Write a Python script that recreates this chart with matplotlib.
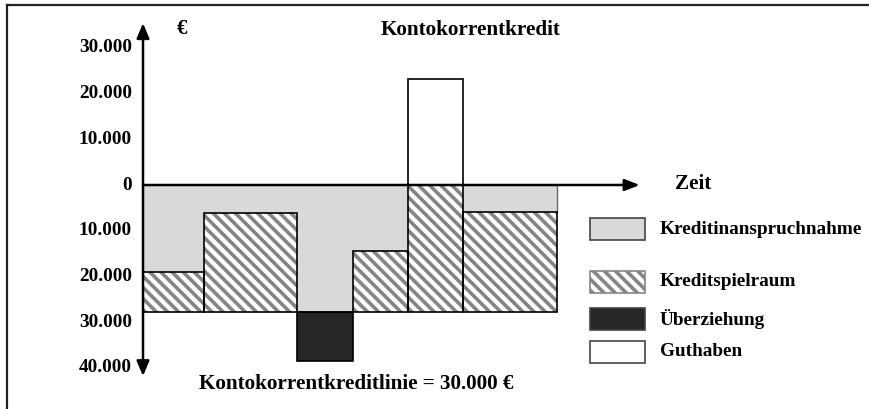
import matplotlib
matplotlib.use("Agg")
import matplotlib.pyplot as plt
from matplotlib.patches import Rectangle

plt.rcParams['font.family'] = ['Liberation Serif', 'DejaVu Serif']
plt.rcParams['font.weight'] = 'bold'
plt.rcParams['hatch.linewidth'] = 2.6

# ---------------- data ----------------
period_edges = [0.0, 1.1, 2.77, 3.78, 4.77, 5.77, 7.46]      # time boundaries
credit_used = [19000, 6100, 27800, 14400, 0, 5900]            # Kreditinanspruchnahme (below 0)
credit_line = 27800                                            # drawn depth of credit line
overdraft = [0, 0, 10700, 0, 0, 0]                             # Überziehung below line
balance = [0, 0, 0, 0, 23200, 0]                               # Guthaben above 0
tick_values = [30000, 20000, 10000, 0, -10000, -20000, -30000, -40000]
tick_labels = ["30.000", "20.000", "10.000", "0", "10.000", "20.000", "30.000", "40.000"]
legend_labels = ["Kreditinanspruchnahme", "Kreditspielraum", "Überziehung", "Guthaben"]

GRAY = '#d9d9d9'
DARK = '#262626'
HATCH_COLOR = '#858585'
FS = 13.9
HATCH = '\\\\\\'

fig = plt.figure(figsize=(8.69, 4.09), dpi=100)
ax = fig.add_axes([0, 0, 1, 1])
# pixel-consistent limits: x unit = 55.5 px, 10000 EUR = 45.71 px
ax.set_xlim(-143 / 55.5, (869 - 143) / 55.5)
ax.set_ylim((185 - 409) / 45.71 * 10000, 185 / 45.71 * 10000)
ax.axis('off')

lefts = period_edges[:-1]
widths = [b - a for a, b in zip(period_edges[:-1], period_edges[1:])]

# gray: credit used (0 down to -used)
ax.bar(lefts, [-u for u in credit_used], width=widths, align='edge',
       color=GRAY, edgecolor='none', zorder=1)
# right edge line of the gray area
ax.plot([period_edges[-1]] * 2, [0, -credit_used[-1]], color='#666666', lw=1.0, zorder=1.5)
# hatched: remaining credit room (hatch layer in gray, outline layer in black)
room = [credit_line - u for u in credit_used]
ax.bar(lefts, [-r for r in room], bottom=[-u for u in credit_used], width=widths,
       align='edge', color='white', edgecolor=HATCH_COLOR, hatch=HATCH, linewidth=0, zorder=2)
ax.bar(lefts, [-r for r in room], bottom=[-u for u in credit_used], width=widths,
       align='edge', fill=False, edgecolor='black', linewidth=1.2, zorder=2.5)
# overdraft
for l, w, o in zip(lefts, widths, overdraft):
    if o > 0:
        ax.bar(l, -o, bottom=-credit_line, width=w, align='edge', color=DARK,
               edgecolor='black', linewidth=1.2, zorder=2)
# balance
for l, w, b in zip(lefts, widths, balance):
    if b > 0:
        ax.bar(l, b, bottom=0, width=w, align='edge', color='white',
               edgecolor='black', linewidth=1.2, zorder=2)

# axes arrows
ax.annotate('', xy=(8.95, 0), xytext=(0, 0),
            arrowprops=dict(arrowstyle='-|>,head_length=0.9,head_width=0.35',
                            color='black', lw=1.8, shrinkA=0, shrinkB=0), zorder=5)
ax.annotate('', xy=(0, 35400), xytext=(0, 0),
            arrowprops=dict(arrowstyle='-|>,head_length=0.9,head_width=0.38',
                            color='black', lw=1.8, shrinkA=0, shrinkB=0), zorder=5)
ax.annotate('', xy=(0, -41800), xytext=(0, 0),
            arrowprops=dict(arrowstyle='-|>,head_length=0.9,head_width=0.38',
                            color='black', lw=1.8, shrinkA=0, shrinkB=0), zorder=5)

for v, lab in zip(tick_values, tick_labels):
    ax.text(-0.2, v, lab, ha='right', va='center', fontsize=FS, fontweight='bold')

# texts (figure pixel coordinates)
def ftext(px, py, s, **kw):
    fig.text(px / 869, 1 - py / 409, s, fontsize=kw.pop('fontsize', FS),
             fontweight='bold', **kw)

ftext(182, 29, '€', ha='center', va='center', fontsize=15)
ftext(471, 30, 'Kontokorrentkredit', ha='center', va='center', fontsize=15.2)
ftext(693, 184, 'Zeit', ha='center', va='center', fontsize=15.2)
ftext(356, 384, 'Kontokorrentkreditlinie = 30.000 €', ha='center', va='center', fontsize=15.2)

# legend (manual)
leg_y = [229, 282, 319, 352]
leg_style = [dict(facecolor=GRAY, edgecolor='#444444'),
             dict(facecolor='white', edgecolor=HATCH_COLOR, hatch=HATCH),
             dict(facecolor=DARK, edgecolor='#444444'),
             dict(facecolor='white', edgecolor='#444444')]
for yc, lab, st in zip(leg_y, legend_labels, leg_style):
    r = Rectangle((590 / 869, 1 - (yc + 11) / 409), 55 / 869, 22 / 409,
                  transform=fig.transFigure, linewidth=1.2, **st)
    fig.patches.append(r)
    ftext(660, yc, lab, ha='left', va='center')

# frame (top and left only visible)
fig.add_artist(plt.Line2D([7 / 869, 1], [1 - 5 / 409] * 2, color='#222222', lw=1.6,
                          transform=fig.transFigure))
fig.add_artist(plt.Line2D([7 / 869] * 2, [0, 1 - 5 / 409], color='#222222', lw=1.6,
                          transform=fig.transFigure))

fig.savefig('out.png', dpi=100)
